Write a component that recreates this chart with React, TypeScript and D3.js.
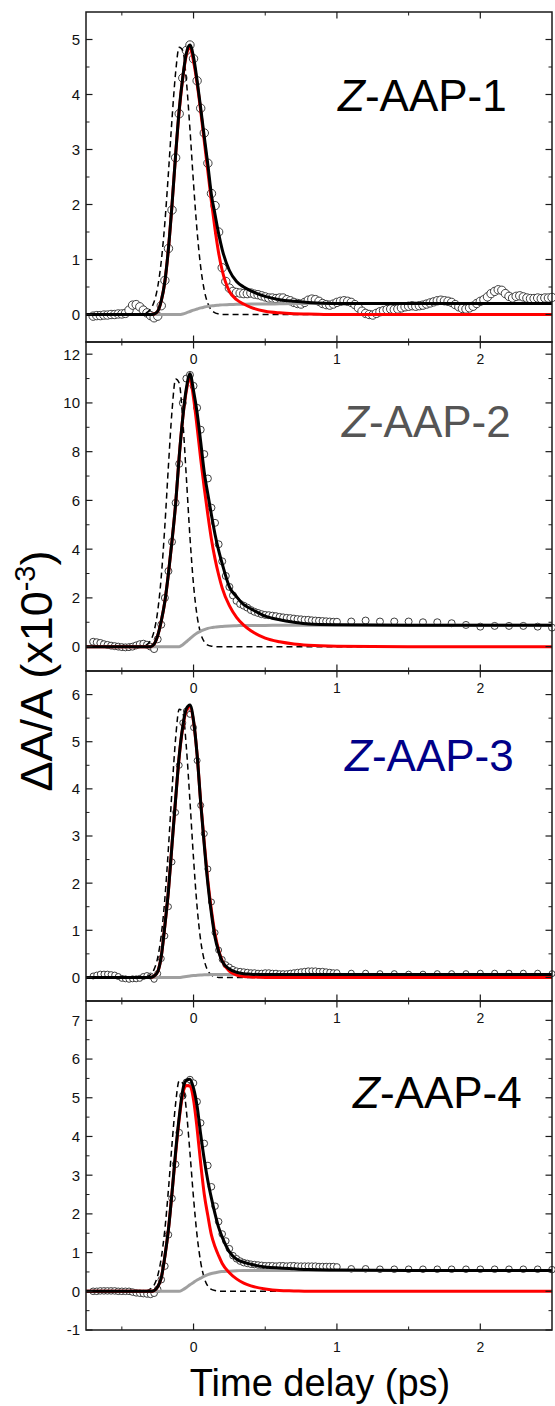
import React from "react";
import * as d3 from "d3";

// ---------- time grids (ps) ----------
const DENSE_T = [
  -0.7, -0.675, -0.65, -0.625, -0.6, -0.575, -0.55, -0.525, -0.5, -0.475,
  -0.45, -0.425, -0.4, -0.375, -0.35, -0.325, -0.3, -0.275, -0.25, -0.225,
  -0.2, -0.175, -0.15, -0.125, -0.1, -0.075, -0.05, -0.025, 0, 0.025,
  0.05, 0.075, 0.1, 0.125, 0.15, 0.175, 0.2, 0.225, 0.25, 0.275,
  0.3, 0.325, 0.35, 0.375, 0.4, 0.425, 0.45, 0.475, 0.5, 0.525,
  0.55, 0.575, 0.6, 0.625, 0.65, 0.675, 0.7, 0.725, 0.75, 0.775,
  0.8, 0.825, 0.85, 0.875, 0.9, 0.925, 0.95, 0.975, 1.0,
];
const P1_TAIL_T = [
  1.025, 1.05, 1.075, 1.1, 1.125, 1.15, 1.175, 1.2, 1.225, 1.25,
  1.275, 1.3, 1.325, 1.35, 1.375, 1.4, 1.425, 1.45, 1.475, 1.5,
  1.525, 1.55, 1.575, 1.6, 1.625, 1.65, 1.675, 1.7, 1.725, 1.75,
  1.775, 1.8, 1.825, 1.85, 1.875, 1.9, 1.925, 1.95, 1.975, 2.0,
  2.025, 2.05, 2.075, 2.1, 2.125, 2.15, 2.175, 2.2, 2.225, 2.25,
  2.275, 2.3, 2.325, 2.35, 2.375, 2.4, 2.425, 2.45, 2.475, 2.5,
];
const SPARSE_T = [1.1, 1.2, 1.3, 1.4, 1.5, 1.6, 1.7, 1.8, 1.9, 2.0, 2.1, 2.2, 2.3, 2.4, 2.5];
const CURVE_T = [
  -0.75, -0.5, -0.4, -0.35, -0.3, -0.275, -0.25, -0.225, -0.2, -0.175,
  -0.15, -0.125, -0.1, -0.075, -0.05, -0.025, 0, 0.025, 0.05, 0.075,
  0.1, 0.125, 0.15, 0.175, 0.2, 0.25, 0.3, 0.35, 0.4, 0.5,
  0.6, 0.7, 0.8, 1.0, 1.5, 2.0, 2.5,
];

// ---------- measured data (ΔA/A ×10^-3) ----------
const P1_DENSE = [
  -0.03, -0.02, -0.02, -0.01, -0.01, 0, 0, 0.01, 0.01, 0.02,
  0.08, 0.17, 0.18, 0.14, 0.08, 0.03, -0.02, -0.06, -0.03, 0.16,
  0.62, 1.2, 1.9, 2.85, 3.65, 4.3, 4.8, 4.9, 4.65, 4.25,
  3.75, 3.3, 2.75, 2.2, 1.98, 1.5, 0.85, 0.6, 0.48, 0.42,
  0.4, 0.39, 0.38, 0.38, 0.39, 0.37, 0.36, 0.34, 0.32, 0.3,
  0.3, 0.29, 0.3, 0.3, 0.27, 0.25, 0.22, 0.2, 0.19, 0.22,
  0.26, 0.28, 0.27, 0.24, 0.2, 0.18, 0.17, 0.19, 0.22,
];
const P1_TAIL = [
  0.24, 0.25, 0.24, 0.22, 0.18, 0.12, 0.06, 0.02, 0.0, -0.01,
  0.02, 0.05, 0.07, 0.09, 0.1, 0.09, 0.1, 0.12, 0.14, 0.15,
  0.16, 0.15, 0.16, 0.17, 0.19, 0.21, 0.23, 0.25, 0.26, 0.25,
  0.24, 0.22, 0.18, 0.14, 0.11, 0.1, 0.12, 0.15, 0.2, 0.24,
  0.27, 0.32, 0.38, 0.42, 0.45, 0.44, 0.38, 0.33, 0.3, 0.33,
  0.34, 0.32, 0.3, 0.29, 0.29, 0.3, 0.29, 0.3, 0.3, 0.31,
];
const P2_DENSE = [
  0.2, 0.18, 0.15, 0.1, 0.07, 0.04, 0.02, 0, -0.02, -0.03,
  -0.02, 0, 0.05, 0.1, 0.12, 0.08, 0, -0.1, 0.3, 0.9,
  2.0, 3.1, 4.3, 5.9, 7.5, 10.0, 11.0, 11.15, 10.7, 9.8,
  8.9, 7.9, 6.9, 5.7, 5.08, 4.2, 3.5, 2.9, 2.45, 2.1,
  1.88, 1.75, 1.68, 1.6, 1.5, 1.43, 1.38, 1.33, 1.3, 1.29,
  1.27, 1.25, 1.22, 1.2, 1.18, 1.17, 1.15, 1.13, 1.12, 1.1,
  1.1, 1.08, 1.07, 1.06, 1.05, 1.04, 1.03, 1.02, 1.02,
];
const P2_SPARSE = [1.03, 1.07, 1.03, 1.03, 1.03, 1.0, 1.0, 0.96, 0.89, 0.82, 0.85, 0.85, 0.85, 0.82, 0.78];
const P3_DENSE = [
  0.03, 0.05, 0.07, 0.07, 0.07, 0.06, 0.05, 0.02, -0.02, -0.03,
  -0.04, -0.03, -0.03, -0.02, 0.02, 0.04, 0.03, -0.04, 0.08, 0.4,
  0.88, 1.5, 2.45, 3.5, 4.5, 5.4, 5.65, 5.58, 5.3, 4.6,
  3.65, 3.05, 2.3, 1.6, 0.95, 0.58, 0.38, 0.27, 0.22, 0.17,
  0.14, 0.13, 0.12, 0.11, 0.1, 0.1, 0.09, 0.09, 0.1, 0.1,
  0.09, 0.09, 0.08, 0.08, 0.08, 0.09, 0.1, 0.11, 0.12, 0.13,
  0.14, 0.14, 0.14, 0.13, 0.13, 0.12, 0.11, 0.1, 0.1,
];
const P3_SPARSE = [0.09, 0.09, 0.08, 0.08, 0.07, 0.07, 0.08, 0.08, 0.08, 0.09, 0.09, 0.09, 0.09, 0.09, 0.08];
const P4_DENSE = [
  0, 0, 0.01, 0.01, 0.01, 0.01, 0.01, 0, 0, 0,
  0, -0.02, -0.04, -0.05, -0.06, -0.07, -0.08, -0.05, 0.05, 0.3,
  0.65, 1.46, 2.4, 3.28, 4.1, 5.05, 5.4, 5.47, 5.38, 4.9,
  4.35, 3.82, 3.25, 2.7, 2.2, 1.8, 1.48, 1.3, 1.1, 0.92,
  0.84, 0.78, 0.74, 0.72, 0.7, 0.69, 0.68, 0.67, 0.66, 0.66,
  0.66, 0.65, 0.66, 0.66, 0.65, 0.66, 0.66, 0.65, 0.65, 0.65,
  0.65, 0.65, 0.65, 0.64, 0.64, 0.64, 0.64, 0.64, 0.63,
];
const P4_SPARSE = [0.58, 0.58, 0.57, 0.57, 0.57, 0.57, 0.57, 0.57, 0.57, 0.57, 0.57, 0.57, 0.57, 0.57, 0.56];

// ---------- fit curves on CURVE_T ----------
const P1_TOTAL = [0, 0, 0, 0, 0, 0.01, 0.06, 0.25, 0.6, 1.2, 2.0, 2.9, 3.72, 4.32, 4.75, 4.9, 4.68, 4.25, 3.75, 3.23, 2.72, 2.17, 1.82, 1.47, 1.18, 0.8, 0.6, 0.5, 0.43, 0.33, 0.27, 0.24, 0.22, 0.2, 0.2, 0.2, 0.2];
const P1_FAST = [0, 0, 0, 0, 0, 0.01, 0.06, 0.25, 0.6, 1.2, 2.0, 2.9, 3.7, 4.3, 4.72, 4.86, 4.6, 4.2, 3.7, 3.15, 2.6, 2.05, 1.55, 1.12, 0.8, 0.42, 0.27, 0.19, 0.13, 0.06, 0.03, 0.015, 0.01, 0, 0, 0, 0];
const P1_SLOW = [0, 0, 0, 0, 0, 0, 0, 0, 0, 0, 0, 0, 0, 0.01, 0.03, 0.055, 0.08, 0.1, 0.12, 0.135, 0.148, 0.157, 0.165, 0.17, 0.175, 0.18, 0.185, 0.188, 0.19, 0.19, 0.195, 0.2, 0.2, 0.2, 0.2, 0.2, 0.2];
const P1_IRF = [0, 0, 0, 0.01, 0.1, 0.23, 0.5, 0.97, 1.67, 2.58, 3.56, 4.4, 4.86, 4.8, 4.25, 3.37, 2.38, 1.51, 0.86, 0.44, 0.2, 0.08, 0.03, 0.01, 0, 0, 0, 0, 0, 0, 0, 0, 0, 0, 0, 0, 0];

const P2_TOTAL = [0, 0, 0, 0, 0, 0.1, 0.45, 1.05, 1.85, 3.0, 4.35, 5.85, 7.8, 9.4, 10.6, 11.2, 10.5, 9.6, 8.4, 7.15, 6.25, 5.4, 4.6, 3.95, 3.4, 2.45, 2.05, 1.72, 1.55, 1.25, 1.1, 1.0, 0.93, 0.9, 0.88, 0.88, 0.88];
const P2_FAST = [0, 0, 0, 0, 0, 0.1, 0.45, 1.05, 1.85, 3.0, 4.35, 5.85, 7.8, 9.4, 10.5, 11.0, 10.2, 9.0, 7.7, 6.5, 5.4, 4.4, 3.6, 2.95, 2.4, 1.68, 1.2, 0.88, 0.65, 0.35, 0.2, 0.11, 0.06, 0.02, 0, 0, 0];
const P2_SLOW = [0, 0, 0, 0, 0, 0, 0, 0, 0, 0, 0, 0, 0, 0.08, 0.2, 0.33, 0.45, 0.56, 0.64, 0.7, 0.75, 0.78, 0.8, 0.82, 0.83, 0.85, 0.86, 0.87, 0.87, 0.87, 0.88, 0.88, 0.88, 0.88, 0.88, 0.88, 0.88];
const P2_IRF = [0, 0, 0, 0.02, 0.25, 0.64, 1.46, 2.88, 4.96, 7.43, 9.68, 10.98, 10.82, 9.29, 6.93, 4.5, 2.54, 1.25, 0.54, 0.2, 0.06, 0.02, 0, 0, 0, 0, 0, 0, 0, 0, 0, 0, 0, 0, 0, 0, 0];

const P3_TOTAL = [0, 0, 0, 0, 0, 0.03, 0.12, 0.45, 1.1, 1.84, 2.82, 3.78, 4.7, 5.33, 5.7, 5.78, 5.45, 4.72, 3.7, 2.8, 1.98, 1.35, 0.85, 0.55, 0.34, 0.18, 0.11, 0.08, 0.07, 0.06, 0.06, 0.06, 0.06, 0.06, 0.06, 0.06, 0.06];
const P3_FAST = [0, 0, 0, 0, 0, 0.03, 0.12, 0.45, 1.1, 1.84, 2.82, 3.78, 4.68, 5.3, 5.66, 5.74, 5.43, 4.72, 3.72, 2.85, 2.05, 1.42, 0.92, 0.58, 0.35, 0.13, 0.05, 0.02, 0.01, 0, 0, 0, 0, 0, 0, 0, 0];
const P3_SLOW = [0, 0, 0, 0, 0, 0, 0, 0, 0, 0, 0, 0, 0, 0.01, 0.02, 0.03, 0.04, 0.045, 0.05, 0.055, 0.058, 0.06, 0.06, 0.06, 0.06, 0.06, 0.06, 0.06, 0.06, 0.06, 0.06, 0.06, 0.06, 0.06, 0.06, 0.06, 0.06];
const P3_IRF = [0, 0, 0, 0, 0.06, 0.17, 0.42, 0.9, 1.67, 2.75, 3.98, 5.07, 5.69, 5.62, 4.88, 3.74, 2.52, 1.49, 0.78, 0.36, 0.14, 0.05, 0.02, 0, 0, 0, 0, 0, 0, 0, 0, 0, 0, 0, 0, 0, 0];

const P4_TOTAL = [0, 0, 0, 0, 0, 0.02, 0.12, 0.35, 0.9, 1.6, 2.55, 3.6, 4.5, 5.2, 5.45, 5.48, 5.25, 4.78, 4.05, 3.4, 2.85, 2.4, 2.0, 1.65, 1.4, 1.02, 0.83, 0.75, 0.7, 0.63, 0.6, 0.58, 0.56, 0.55, 0.54, 0.54, 0.54];
const P4_FAST = [0, 0, 0, 0, 0, 0.02, 0.12, 0.35, 0.9, 1.6, 2.55, 3.55, 4.45, 5.1, 5.32, 5.3, 4.95, 4.2, 3.3, 2.5, 1.95, 1.45, 1.15, 0.92, 0.72, 0.48, 0.32, 0.21, 0.14, 0.06, 0.02, 0.01, 0, 0, 0, 0, 0];
const P4_SLOW = [0, 0, 0, 0, 0, 0, 0, 0, 0, 0, 0, 0, 0, 0.04, 0.1, 0.17, 0.23, 0.29, 0.34, 0.39, 0.43, 0.46, 0.48, 0.5, 0.51, 0.52, 0.53, 0.54, 0.54, 0.54, 0.54, 0.54, 0.54, 0.54, 0.54, 0.54, 0.54];
const P4_IRF = [0, 0, 0, 0, 0.06, 0.16, 0.4, 0.86, 1.6, 2.63, 3.81, 4.85, 5.44, 5.37, 4.67, 3.58, 2.41, 1.43, 0.75, 0.34, 0.13, 0.05, 0.02, 0, 0, 0, 0, 0, 0, 0, 0, 0, 0, 0, 0, 0, 0];

// ---------- axes ----------
const X_DOMAIN = [-0.75, 2.5];
const X_MAJOR = [0, 1, 2];
const X_MINOR = [-0.5, 0.5, 1.5];
const P1_Y = [0, 1, 2, 3, 4, 5];
const P1_YM = [0.5, 1.5, 2.5, 3.5, 4.5];
const P2_Y = [0, 2, 4, 6, 8, 10, 12];
const P2_YM = [1, 3, 5, 7, 9, 11];
const P3_Y = [0, 1, 2, 3, 4, 5, 6];
const P3_YM = [0.5, 1.5, 2.5, 3.5, 4.5, 5.5];
const P4_Y = [-1, 0, 1, 2, 3, 4, 5, 6, 7];
const P4_YM = [-0.5, 0.5, 1.5, 2.5, 3.5, 4.5, 5.5, 6.5];

const LABELS = ["-AAP-1", "-AAP-2", "-AAP-3", "-AAP-4"];
const LABEL_COLORS = ["#000000", "#555555", "#000088", "#000000"];

const W = 555;
const H = 1406;
const L = 86;
const R = 552;
const FONT = "'Liberation Sans', Arial, Helvetica, sans-serif";

const PANELS = [
  { top: 12, bottom: 342, yDomain: [-0.5, 5.5], yMajor: P1_Y, yMinor: P1_YM, tx: 338, ty: 111, r: 4.2,
    t: [...DENSE_T, ...P1_TAIL_T], v: [...P1_DENSE, ...P1_TAIL], total: P1_TOTAL, fast: P1_FAST, slow: P1_SLOW, irf: P1_IRF },
  { top: 342, bottom: 671, yDomain: [-1, 12.5], yMajor: P2_Y, yMinor: P2_YM, tx: 342, ty: 437, r: 3.5,
    t: [...DENSE_T, ...SPARSE_T], v: [...P2_DENSE, ...P2_SPARSE], total: P2_TOTAL, fast: P2_FAST, slow: P2_SLOW, irf: P2_IRF },
  { top: 671, bottom: 1001, yDomain: [-0.5, 6.5], yMajor: P3_Y, yMinor: P3_YM, tx: 345, ty: 771, r: 3.0,
    t: [...DENSE_T, ...SPARSE_T], v: [...P3_DENSE, ...P3_SPARSE], total: P3_TOTAL, fast: P3_FAST, slow: P3_SLOW, irf: P3_IRF },
  { top: 1001, bottom: 1330, yDomain: [-1, 7.5], yMajor: P4_Y, yMinor: P4_YM, tx: 353, ty: 1108, r: 3.3,
    t: [...DENSE_T, ...SPARSE_T], v: [...P4_DENSE, ...P4_SPARSE], total: P4_TOTAL, fast: P4_FAST, slow: P4_SLOW, irf: P4_IRF },
];

export default function App() {
  const x = d3.scaleLinear().domain(X_DOMAIN).range([L, R]);
  const axisColor = "#1a1a1a";

  return (
    <svg
      width={W}
      height={H}
      viewBox={`0 0 ${W} ${H}`}
      style={{ position: "absolute", left: 0, top: 0, background: "#fff" }}
      fontFamily={FONT}
    >
      <rect x={0} y={0} width={W} height={H} fill="#fff" />
      {PANELS.map((p, pi) => {
        const y = d3.scaleLinear().domain(p.yDomain).range([p.bottom, p.top]);
        const line = d3
          .line<number>()
          .x((_, i) => x(CURVE_T[i]))
          .y((d) => y(d))
          .curve(d3.curveMonotoneX);
        const pts = p.t.map((t, i) => [t, p.v[i]]).filter((d) => d[1] !== undefined);
        return (
          <g key={pi}>
            {pts.map((d, i) => (
              <circle key={i} cx={x(d[0])} cy={y(d[1])} r={p.r} fill="#fff" stroke="#2a2a2a" strokeWidth={0.9} />
            ))}
            <path d={line(p.irf) || ""} fill="none" stroke="#000" strokeWidth={1.5} strokeDasharray="6,4" />
            <path d={line(p.slow) || ""} fill="none" stroke="#a0a0a0" strokeWidth={3} />
            <path d={line(p.fast) || ""} fill="none" stroke="#ff0000" strokeWidth={3} />
            <path d={line(p.total) || ""} fill="none" stroke="#000" strokeWidth={3} />
            <rect x={L} y={p.top} width={R - L} height={p.bottom - p.top} fill="none" stroke={axisColor} strokeWidth={1.5} />
            {X_MAJOR.map((t) => (
              <g key={"xM" + t}>
                <line x1={x(t)} x2={x(t)} y1={p.bottom} y2={p.bottom - 6.5} stroke={axisColor} strokeWidth={1.2} />
                <line x1={x(t)} x2={x(t)} y1={p.top} y2={p.top + 6.5} stroke={axisColor} strokeWidth={1.2} />
              </g>
            ))}
            {X_MINOR.map((t) => (
              <g key={"xm" + t}>
                <line x1={x(t)} x2={x(t)} y1={p.bottom} y2={p.bottom - 3.5} stroke={axisColor} strokeWidth={1} />
                <line x1={x(t)} x2={x(t)} y1={p.top} y2={p.top + 3.5} stroke={axisColor} strokeWidth={1} />
              </g>
            ))}
            {p.yMajor.map((v) => (
              <g key={"yM" + v}>
                <line x1={L} x2={L + 6.5} y1={y(v)} y2={y(v)} stroke={axisColor} strokeWidth={1.2} />
                <line x1={R} x2={R - 6.5} y1={y(v)} y2={y(v)} stroke={axisColor} strokeWidth={1.2} />
              </g>
            ))}
            {p.yMinor.map((v) => (
              <g key={"ym" + v}>
                <line x1={L} x2={L + 3.5} y1={y(v)} y2={y(v)} stroke={axisColor} strokeWidth={1} />
                <line x1={R} x2={R - 3.5} y1={y(v)} y2={y(v)} stroke={axisColor} strokeWidth={1} />
              </g>
            ))}
          </g>
        );
      })}
      {PANELS.map((p, pi) => {
        const y = d3.scaleLinear().domain(p.yDomain).range([p.bottom, p.top]);
        return (
          <g key={"lab" + pi}>
            {p.yMajor.map((v) => (
              <text key={v} x={80} y={y(v)} dy="0.36em" textAnchor="end" fontSize={15} fill="#111">
                {v}
              </text>
            ))}
            {X_MAJOR.map((t) => (
              <text key={t} x={x(t)} y={p.bottom + 21.5} textAnchor="middle" fontSize={14} fill="#111">
                {t}
              </text>
            ))}
            <text x={p.tx} y={p.ty} fontSize={44} fill={LABEL_COLORS[pi]}>
              <tspan fontStyle="italic">Z</tspan>
              {LABELS[pi]}
            </text>
          </g>
        );
      })}
      <text transform="translate(52,671) rotate(-90)" textAnchor="middle" fontSize={45} fill="#000">
        ΔA/A (x10
        <tspan fontSize={29} dy={-17}>-3</tspan>
        <tspan dy={17}>)</tspan>
      </text>
      <text x={320} y={1396} textAnchor="middle" fontSize={38} fill="#000">
        Time delay (ps)
      </text>
    </svg>
  );
}
